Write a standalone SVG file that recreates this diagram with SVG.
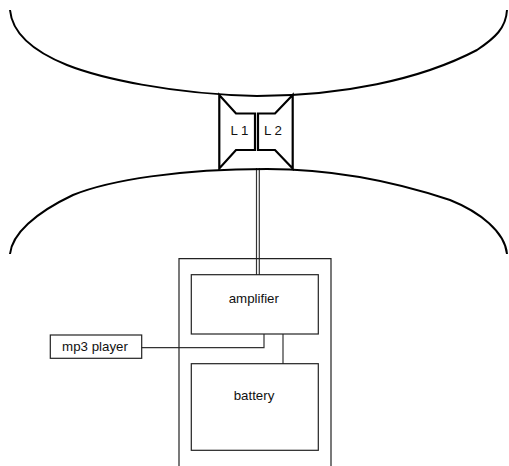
<svg xmlns="http://www.w3.org/2000/svg" width="509" height="466" viewBox="0 0 509 466">
<style>
.c{fill:none;stroke:#000;stroke-width:2;stroke-linejoin:round}
.s{fill:none;stroke:#000;stroke-width:2.200;stroke-linejoin:miter}
.b{fill:none;stroke:#222;stroke-width:1.200}
.w{stroke:#333;stroke-width:1.200;fill:none}
text{font-family:"Liberation Sans",Arial,sans-serif;font-size:13.300px;fill:#111;text-anchor:middle}
</style>
<rect width="509" height="466" fill="#fff"/>
<g id="connectors">
<path class="w" d="M256.500 168V275"/>
<path class="w" d="M259.300 168V275"/>
<path class="w" d="M141.500 347.700H264V334"/>
<path class="w" d="M283 334V364"/>
</g>
<g id="head-top"><path class="c" d="M10 10C12 32 30 50 67 65C100 78 170 94 257 96C340 96 420 80 477 50C495 38 506 28 507 10"/></g>
<g id="head-bottom"><path class="c" d="M10 254C12 234 35 213 73 195C110 180 180 169 267 169C330 169 390 180 450 200C480 212 505 232 507 254"/></g>
<g id="speaker-l1"><path class="s" d="M219.300 95V168.500L236 150H255V113.500H236Z"/><text x="239.500" y="135">L 1</text></g>
<g id="speaker-l2"><path class="s" d="M292.700 95V168.500L275 150H258V113.500H275Z"/><text x="273" y="135">L 2</text></g>
<g id="case"><path class="b" d="M179 466V258.700H331V466"/></g>
<g id="amplifier"><rect class="b" x="191.300" y="274.700" width="127" height="59.300"/><text x="253.800" y="303">amplifier</text></g>
<g id="battery"><rect class="b" x="191.300" y="363.700" width="127" height="86.600"/><text x="254" y="400">battery</text></g>
<g id="mp3-player"><rect class="b" x="50.300" y="335" width="91.400" height="23.300"/><text x="95" y="351">mp3 player</text></g>
</svg>
